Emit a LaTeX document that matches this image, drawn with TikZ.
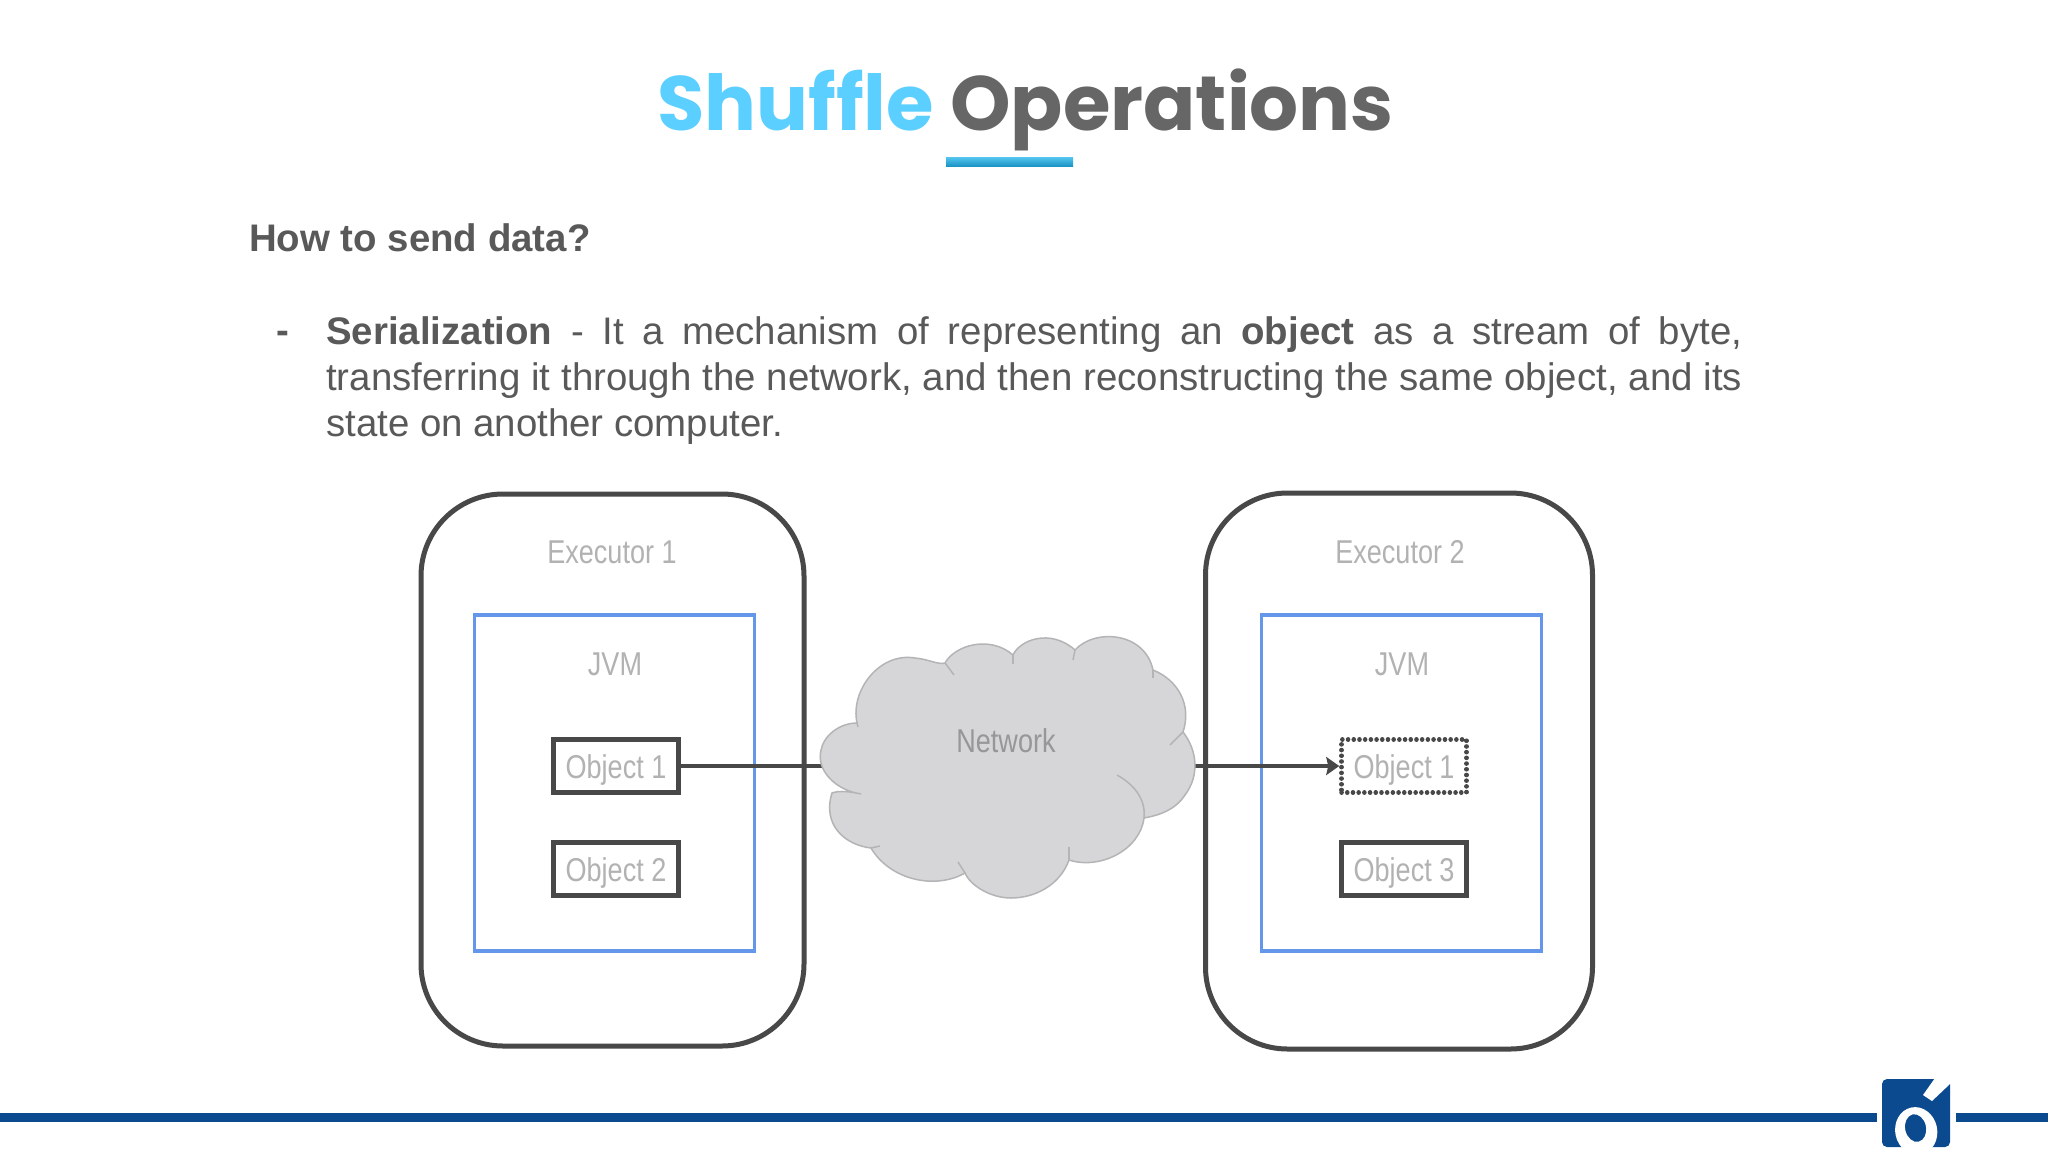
\documentclass[tikz,border=0pt]{standalone}
\usepackage{fontspec}
\setmainfont{Liberation Sans}
\newfontfamily\titlefont{Poppins}
\newfontfamily\thinfont[FakeStretch=0.82]{Liberation Sans}
\usetikzlibrary{
  arrows.meta % For arrow tips
}
\definecolor{skyblue}{HTML}{5BCFFF}
\definecolor{titlegray}{HTML}{666666}
\definecolor{bodygray}{HTML}{595959}
\definecolor{framegray}{HTML}{484848}
\definecolor{jvmblue}{HTML}{6496EA}
\definecolor{labelgray}{HTML}{B2B2B2}
\definecolor{cloudfill}{HTML}{D6D5D8}
\definecolor{cloudline}{HTML}{B4B4B6}
\definecolor{barblue}{HTML}{0B4A8F}
\definecolor{ruletop}{HTML}{55C6F0}
\definecolor{rulebottom}{HTML}{1B94C4}

\begin{document}
\begin{tikzpicture}[
      x=1pt, y=-1pt, % Pixel grid of the slide
      >=Stealth, % Default arrow tip
      executor/.style={draw=framegray, line width=5pt, rounded corners=82pt, minimum width=383pt, minimum height=552pt},
      jvm/.style={draw=jvmblue, line width=3.5pt, minimum width=280pt, minimum height=336pt},
      object/.style={draw=framegray, line width=5pt, minimum width=125pt, minimum height=53pt, text=labelgray, text height=25pt, text depth=0pt, font=\thinfont\fontsize{33}{36}\selectfont},
      dottedobject/.style={object, line width=4.5pt, line cap=round, dash pattern=on 0.1pt off 5.6pt},
      thinlabel/.style={text=labelgray, font=\thinfont\fontsize{33}{36}\selectfont},
      link/.style={draw=framegray, line width=4.5pt},
      lobe/.style={draw=cloudline, line width=1.5pt},
    ]

    \useasboundingbox (0,0) rectangle (2048,1152);
    \fill[white] (0,0) rectangle (2048,1152);

    % Title
    \node[anchor=base west, inner sep=0pt, font=\titlefont\bfseries\fontsize{77}{82}\selectfont] (title) at (657,130)
      {\textcolor{skyblue}{Shuffle} \textcolor{titlegray}{Operations}};
    \shade[top color=ruletop, bottom color=rulebottom] (946,157) rectangle (1073,166);

    % Text
    \node[anchor=base west, inner sep=0pt, text=bodygray, font=\bfseries\fontsize{38.4}{46}\selectfont] (question) at (249,251) {How to send data?};
    \node[anchor=base west, inner sep=0pt, text=bodygray, font=\bfseries\fontsize{38.4}{46}\selectfont] (dash) at (276,343) {-};
    \node[anchor=north west, inner sep=0pt, text width=1416pt, align=justify, text=bodygray, font=\fontsize{38.4}{46.4}\selectfont] (body) at (326,316)
      {\textbf{Serialization} - It a mechanism of representing an \textbf{object} as a stream of byte,\linebreak
       transferring it through the network, and then reconstructing the same object, and its\linebreak
       state on another computer.};

    % Left side
    \node[executor] (exec1) at (612.5,770) {};
    \node[thinlabel] (exec1label) at (612,552) {Executor 1};
    \node[jvm] (jvm1) at (614.5,783) {};
    \node[thinlabel] (jvm1label) at (615,664) {JVM};
    \node[object] (obj1) at (616,766) {Object 1};
    \node[object] (obj2) at (616,869) {Object 2};

    % Right side
    \node[executor, minimum width=387pt, minimum height=556pt] (exec2) at (1399,771) {};
    \node[thinlabel] (exec2label) at (1400,552) {Executor 2};
    \node[jvm] (jvm2) at (1401.5,783) {};
    \node[thinlabel] (jvm2label) at (1402,664) {JVM};
    \node[dottedobject] (obj3) at (1404,766) {Object 1};
    \node[object] (obj4) at (1404,869) {Object 3};

    % Connection points on the cloud
    \coordinate (netwest) at (824,766);
    \coordinate (neteast) at (1192,766);

    \draw[link] (obj1.east) -- (netwest);
    \draw[link, -{Stealth[length=13pt, width=18pt, inset=2pt]}] (neteast) -- (obj3.west);

    % Cloud outline
    \draw[lobe, fill=cloudfill] (861,794)
      .. controls (835,790) and (816,770) .. (821,750)
      .. controls (824,735) and (840,723) .. (857,723)
      .. controls (850,690) and (880,652) .. (915,658)
      .. controls (928,659) and (938,665) .. (945,663)
      .. controls (955,645) and (990,635) .. (1013,655)
      .. controls (1020,640) and (1050,628) .. (1075,650)
      .. controls (1095,628) and (1145,632) .. (1153,670)
      .. controls (1178,680) and (1192,705) .. (1183,732)
      .. controls (1197,750) and (1200,775) .. (1185,795)
      .. controls (1175,810) and (1160,815) .. (1144,818)
      .. controls (1140,850) and (1100,870) .. (1069,860)
      .. controls (1060,885) and (1035,898) .. (1011,898)
      .. controls (990,898) and (970,885) .. (965,873)
      .. controls (935,890) and (890,880) .. (871,848)
      .. controls (845,845) and (822,825) .. (832,793)
      .. controls (840,790) and (852,792) .. (861,794) -- cycle;

    % Inner lobes
    \draw[lobe] (857,723) -- (858,727);
    \draw[lobe] (945,663) -- (954,675);
    \draw[lobe] (1013,655) -- (1013,664);
    \draw[lobe] (1075,650) -- (1073,660);
    \draw[lobe] (1153,670) -- (1153,678);
    \draw[lobe] (1183,732) -- (1170,745);
    \draw[lobe] (1117,775) .. controls (1135,785) and (1146,800) .. (1144,818);
    \draw[lobe] (1069,860) -- (1069,847);
    \draw[lobe] (965,873) -- (958,862);
    \draw[lobe] (871,848) -- (880,846);

    \node[thinlabel, text=labelgray!85!black] (network) at (1006,741) {Network};

    % Footer bar
    \fill[barblue] (0,1113) rectangle (1877,1122);
    \fill[barblue] (1956,1113) rectangle (2048,1122);

    % Logo
    \fill[barblue, rounded corners=5pt] (1882,1079) rectangle (1950,1147);
    \fill[white] (1935,1078) -- (1923,1095) -- (1932,1101) -- (1951,1083) -- (1951,1078) -- cycle;
    \begin{scope}
      \clip (1882,1079) rectangle (1950,1147);
      \fill[white, even odd rule, rotate around={12:(1916,1130)}] (1916,1131) ellipse [x radius=21pt, y radius=24pt]
        (1916,1128) ellipse [x radius=10.5pt, y radius=14pt];
    \end{scope}
  \end{tikzpicture}
\end{document}
